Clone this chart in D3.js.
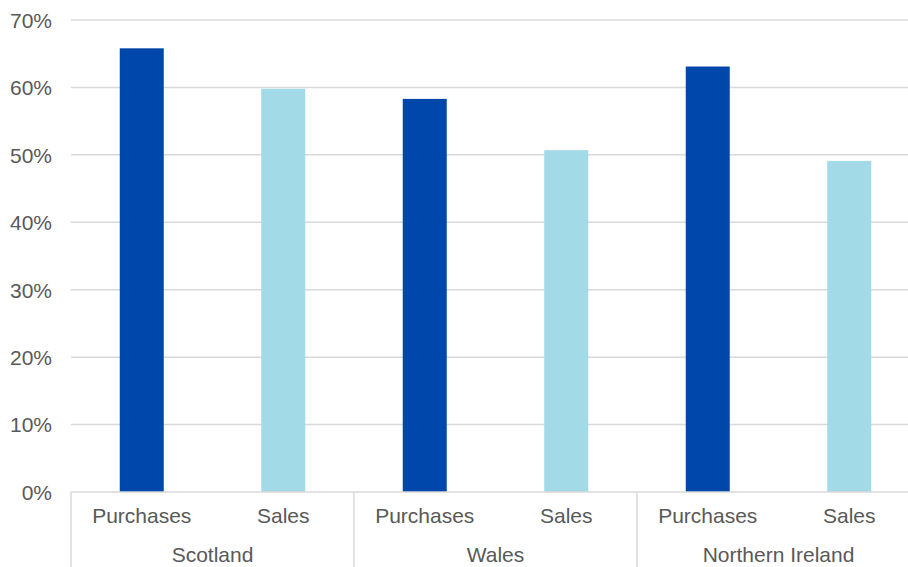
<!DOCTYPE html>
<html>
<head>
<meta charset="utf-8">
<script src="https://cdn.jsdelivr.net/npm/d3@7"></script>
<style>
  html, body { margin: 0; padding: 0; background: #fff; }
  svg { display: block; }
  text { font-family: "Liberation Sans", Arial, sans-serif; fill: #595959; }
</style>
</head>
<body>
<svg id="chart" width="908" height="567"></svg>
<script>
// Share of businesses, by nation and trade direction (%)
const regions = ["Scotland", "Wales", "Northern Ireland"];
const series = ["Purchases", "Sales"];
const purchases = [65.8, 58.3, 63.1];
const sales = [59.8, 50.7, 49.1];
const yTicks = [0, 10, 20, 30, 40, 50, 60, 70];

const colors = { Purchases: "#0047AB", Sales: "#A2DAE8" };

const rows = regions.map((r, i) => ({
  region: r,
  values: [
    { key: "Purchases", value: purchases[i] },
    { key: "Sales", value: sales[i] }
  ]
}));

const svg = d3.select("#chart");
const plotLeft = 71, plotRight = 920, plotTop = 20, plotBottom = 492, svgH = 567;
const fontSize = "21px";

const x0 = d3.scaleBand().domain(regions).range([plotLeft, plotRight]).padding(0);
const x1 = d3.scaleBand().domain(series).range([0, x0.bandwidth()])
  .paddingInner(0.689).paddingOuter(0.689 / 2);
const y = d3.scaleLinear().domain([0, 70]).range([plotBottom, plotTop]);

// gridlines
svg.append("g")
  .selectAll("line")
  .data(yTicks.filter(d => d > 0))
  .join("line")
  .attr("x1", plotLeft).attr("x2", plotRight)
  .attr("y1", d => y(d)).attr("y2", d => y(d))
  .attr("stroke", "#d9d9d9").attr("stroke-width", 1.5);

// y axis labels
const yAxis = d3.axisLeft(y).tickValues(yTicks).tickFormat(d => d + "%").tickSize(0).tickPadding(0);
const yg = svg.append("g").attr("transform", `translate(52,0)`).call(yAxis);
yg.select(".domain").remove();
yg.selectAll("text")
  .attr("font-family", null)
  .style("font-size", fontSize).attr("fill", "#595959").attr("dy", "0.35em");

// bars
const groups = svg.append("g").selectAll("g")
  .data(rows).join("g")
  .attr("transform", d => `translate(${x0(d.region)},0)`);

groups.selectAll("rect")
  .data(d => d.values)
  .join("rect")
  .attr("x", d => x1(d.key))
  .attr("width", x1.bandwidth())
  .attr("y", d => y(d.value))
  .attr("height", d => y(0) - y(d.value))
  .attr("fill", d => colors[d.key]);

// baseline
svg.append("line")
  .attr("x1", plotLeft).attr("x2", plotRight)
  .attr("y1", plotBottom).attr("y2", plotBottom)
  .attr("stroke", "#d9d9d9").attr("stroke-width", 1.5);

// group separators
const seps = regions.map(r => x0(r)).concat([plotRight]);
svg.append("g").selectAll("line")
  .data(seps).join("line")
  .attr("x1", d => d).attr("x2", d => d)
  .attr("y1", plotBottom).attr("y2", svgH)
  .attr("stroke", "#d9d9d9").attr("stroke-width", 1.5);

// series labels
groups.selectAll("text.series")
  .data(d => d.values)
  .join("text")
  .attr("class", "series")
  .attr("x", d => x1(d.key) + x1.bandwidth() / 2)
  .attr("y", 523)
  .attr("text-anchor", "middle")
  .style("font-size", fontSize)
  .text(d => d.key);

// region labels
groups.append("text")
  .attr("x", x0.bandwidth() / 2)
  .attr("y", 562)
  .attr("text-anchor", "middle")
  .style("font-size", fontSize)
  .text(d => d.region);
</script>
</body>
</html>
